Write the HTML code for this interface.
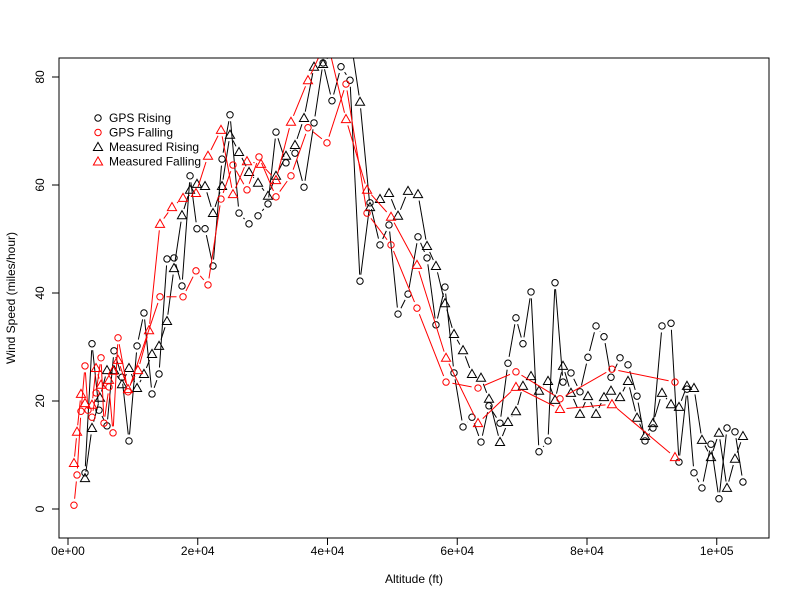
<!DOCTYPE html>
<html><head><meta charset="utf-8"><style>
body{margin:0;background:#fff}
svg text{font-family:"Liberation Sans",Arial,sans-serif;font-size:12px}
</style></head><body>
<svg id="chart" width="800" height="600" viewBox="0 0 800 600" xmlns="http://www.w3.org/2000/svg">
<defs><clipPath id="clip"><rect x="59" y="58" width="710" height="480"/></clipPath></defs>
<rect x="0" y="0" width="800" height="600" fill="#fff"/>
<g id="series" clip-path="url(#clip)"></g>
<rect x="59" y="58" width="710" height="480" fill="none" stroke="#000"/>
<g id="axes"></g>
<text x="414" y="583" text-anchor="middle">Altitude (ft)</text>
<text transform="translate(15,298) rotate(-90)" text-anchor="middle">Wind Speed (miles/hour)</text>
<g id="legend"></g>
</svg>
<script>
const grAlt=[2.62,3.70,4.78,6.01,7.09,8.32,9.40,10.64,11.71,12.95,14.03,15.26,16.34,17.57,18.81,19.88,21.12,22.35,23.74,24.97,26.36,27.90,29.29,30.83,32.06,33.60,34.99,36.38,37.92,39.31,40.69,42.08,43.47,45.01,46.55,48.09,49.48,50.87,52.41,53.95,55.34,56.72,58.11,59.50,60.89,62.27,63.66,64.89,66.59,67.82,69.05,70.13,71.37,72.60,73.99,75.07,76.30,77.53,78.92,80.15,81.39,82.62,83.70,85.09,86.32,87.71,88.94,90.17,91.56,92.95,94.18,95.41,96.49,97.72,99.11,100.34,101.58,102.81,104.04];
const grSpd=[6.7,30.6,18.3,15.4,29.3,24.4,12.6,30.2,36.3,21.3,25.0,46.3,46.5,41.3,61.7,51.9,51.9,45.0,64.8,73.0,54.8,52.8,54.3,56.5,69.8,64.1,65.9,59.6,71.5,82.6,75.6,81.9,79.4,42.2,56.7,48.9,52.6,36.1,39.8,50.4,46.5,34.1,41.1,25.2,15.2,17.0,12.4,19.1,15.9,27.0,35.4,30.6,40.2,10.6,12.6,41.9,23.5,25.2,21.7,28.1,33.9,31.9,24.4,28.0,26.7,20.9,12.6,15.0,33.9,34.4,8.7,22.2,6.7,3.9,12.0,1.9,15.0,14.3,5.0];
const mrAlt=[2.62,3.70,4.93,6.01,7.09,8.32,9.40,10.64,11.71,12.95,14.03,15.26,16.34,17.57,18.81,19.88,21.12,22.35,23.74,24.97,26.36,27.90,29.29,30.83,32.06,33.60,34.99,36.38,37.92,39.31,42.08,43.47,45.01,46.55,48.09,49.48,50.87,52.41,53.95,55.34,56.72,58.11,59.50,60.89,62.27,63.66,64.89,66.59,67.82,69.05,70.13,71.37,72.60,73.99,75.07,76.30,77.53,78.92,80.15,81.39,82.62,83.70,85.09,86.32,87.71,88.94,90.17,91.56,92.95,94.18,95.41,96.49,97.72,99.11,100.34,101.58,102.81,104.04];
const mrSpd=[5.7,15.0,20.6,25.7,25.7,23.1,26.1,22.4,25.0,28.7,30.2,34.8,44.6,54.4,59.1,60.2,59.8,54.8,59.8,69.3,66.1,62.4,60.4,58.0,61.7,65.4,67.4,72.4,81.9,82.4,86.9,87.8,75.4,55.9,57.4,58.5,54.3,58.9,58.3,48.7,45.0,38.1,32.4,29.4,25.0,24.3,20.4,12.4,16.1,18.1,22.8,24.6,21.9,23.7,20.2,26.5,21.5,17.6,20.9,17.6,20.7,21.9,20.7,23.7,16.9,13.5,15.9,21.5,19.4,18.9,22.8,22.4,12.8,9.6,14.1,3.9,9.3,13.5];
const gfAlt=[0.92,1.39,2.00,2.62,3.08,3.70,4.32,5.09,5.55,6.32,6.94,7.71,9.25,14.18,17.73,19.73,21.58,23.58,25.43,27.59,29.44,32.06,34.37,36.99,39.92,42.85,46.09,49.79,53.79,58.27,63.20,69.05,75.84,83.85,93.56];
const gfSpd=[0.7,6.3,18.1,26.5,18.3,17.0,21.5,28.0,15.9,22.6,14.1,31.7,21.7,39.3,39.3,44.1,41.5,57.4,63.7,59.1,65.2,57.8,61.7,70.6,67.8,78.7,54.8,48.9,37.2,23.5,22.4,25.4,20.4,25.9,23.5];
const mfAlt=[0.92,1.39,2.00,2.62,3.70,4.32,5.09,6.32,6.94,7.71,9.25,10.79,12.49,14.18,16.03,17.73,19.73,21.58,23.58,25.43,27.59,29.75,32.06,34.37,36.99,39.92,42.85,46.09,49.79,53.79,58.27,63.20,69.05,75.84,83.85,93.56];
const mfSpd=[8.5,14.3,21.3,19.6,19.3,26.1,23.0,23.9,25.6,27.6,22.2,25.7,33.1,52.8,55.9,57.6,58.5,65.4,70.2,58.3,64.4,63.9,60.9,71.7,79.4,86.9,72.2,59.1,54.1,45.2,28.0,15.9,22.6,18.5,19.4,9.6];
const xTicks=[0,20000,40000,60000,80000,100000];
const xTickLabels=["0e+00","2e+04","4e+04","6e+04","8e+04","1e+05"];
const yTicks=[0,20,40,60,80];
const legendLabels=["GPS Rising","GPS Falling","Measured Rising","Measured Falling"];

const NS="http://www.w3.org/2000/svg";
function X(ft){return 68+ft/20000*129.75;}
function Y(v){return 509-v*5.4;}
function mk(tag,attrs,parent){const e=document.createElementNS(NS,tag);for(const k in attrs)e.setAttribute(k,attrs[k]);parent.appendChild(e);return e;}
const series=document.getElementById('series');
function marker(type,x,y,col,parent){
  if(type==='c') return mk('circle',{cx:x,cy:y,r:3.2,fill:'none',stroke:col,'stroke-width':1},parent);
  const s=4.6;
  return mk('polygon',{points:`${x},${y-s} ${x-s},${y+s*0.75} ${x+s},${y+s*0.75}`,fill:'none',stroke:col,'stroke-width':1},parent);
}
const GAP=6.5;
function draw(alts,spds,col,type,name){
  const g=mk('g',{},series);
  
  
  for(let i=1;i<alts.length;i++){
    const x1=X(alts[i-1]*1000),y1=Y(spds[i-1]),x2=X(alts[i]*1000),y2=Y(spds[i]);
    const d=Math.hypot(x2-x1,y2-y1);
    if(d<=2*GAP) continue;
    const ux=(x2-x1)/d,uy=(y2-y1)/d;
    const ln=mk('line',{x1:x1+ux*GAP,y1:y1+uy*GAP,x2:x2-ux*GAP,y2:y2-uy*GAP,stroke:col,'stroke-width':1},g);
    
    
  }
  alts.forEach((a,i)=>{
    const m=marker(type,X(a*1000),Y(spds[i]),col,g);
    
    
  });
}
draw(grAlt,grSpd,'#000','c','gps-rising-series');
draw(mrAlt,mrSpd,'#000','t','measured-rising-series');
draw(gfAlt,gfSpd,'#f00','c','gps-falling-series');
draw(mfAlt,mfSpd,'#f00','t','measured-falling-series');

const axes=document.getElementById('axes');


mk('line',{x1:X(0),x2:X(100000),y1:538,y2:538,stroke:'#000'},axes);
xTicks.forEach((t,i)=>{
  mk('line',{x1:X(t),x2:X(t),y1:538,y2:545,stroke:'#000'},axes);
  const tx=mk('text',{x:X(t),y:555,'text-anchor':'middle'},axes);
  tx.textContent=xTickLabels[i];
  
  
});
mk('line',{x1:59,x2:59,y1:Y(0),y2:Y(80),stroke:'#000'},axes);
yTicks.forEach(t=>{
  mk('line',{x1:52,x2:59,y1:Y(t),y2:Y(t),stroke:'#000'},axes);
  const tx=mk('text',{transform:`translate(44,${Y(t)}) rotate(-90)`,'text-anchor':'middle'},axes);
  tx.textContent=String(t);
  
  
});

const leg=document.getElementById('legend');
const legCols=['#000','#f00','#000','#f00'];
const legTypes=['c','c','t','t'];
legendLabels.forEach((l,i)=>{
  const y=118+i*14.5;
  const g=mk('g',{},leg);
  
  
  marker(legTypes[i],98,y,legCols[i],g);
  const t=mk('text',{x:109,y:y+4},g);
  t.textContent=l;
});
</script>
</body></html>
